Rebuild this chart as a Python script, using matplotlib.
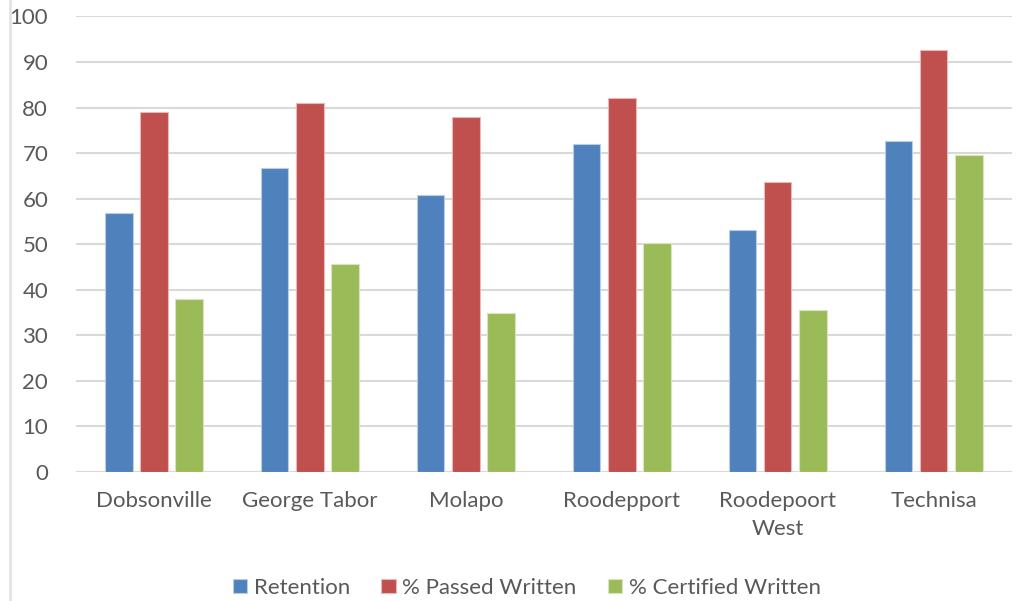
import matplotlib.pyplot as plt
import numpy as np

sites = ["Dobsonville", "George Tabor", "Molapo", "Roodepport", "Roodepoort\nWest", "Technisa"]
retention = [56.8, 66.7, 60.8, 72.0, 53.1, 72.6]
passed_written = [79.0, 81.0, 78.0, 82.0, 63.7, 92.6]
certified_written = [38.0, 45.7, 34.9, 50.3, 35.5, 69.6]

series = [
    ("Retention", retention, "#4F81BD", "#B9CDE5"),
    ("% Passed Written", passed_written, "#C0504D", "#E6B9B8"),
    ("% Certified Written", certified_written, "#9BBB59", "#D7E4BD"),
]

plt.rcParams['font.family'] = ['Lato', 'DejaVu Sans']
text_color = "#595959"

fig = plt.figure(figsize=(10.23, 6.01), dpi=100)
ax = fig.add_axes([0.0743, 0.2146, 0.9147, 0.758])

x = np.arange(len(sites))
width = 0.175
step = 0.225
for i, (name, vals, color, edge) in enumerate(series):
    ax.bar(x + (i - 1) * step, vals, width, color=color, edgecolor=edge,
           linewidth=0.8, label=name, zorder=3)

ax.set_xlim(-0.5, len(sites) - 0.5)
ax.set_ylim(0, 100)
ax.set_yticks(range(0, 101, 10))
ax.yaxis.grid(True, color="#D9D9D9", linewidth=1.5, zorder=0)
ax.axhline(0, color="#D9D9D9", linewidth=1.5, zorder=1)
for s in ax.spines.values():
    s.set_visible(False)
ax.tick_params(axis="both", length=0, labelsize=16, colors=text_color)
ax.tick_params(axis="y", pad=20)
ax.tick_params(axis="x", pad=14)
ax.set_xticks(x)
ax.set_xticklabels(sites, linespacing=1.45)

fig.legend(loc="lower center", bbox_to_anchor=(0.515, -0.028), ncol=3, frameon=False,
           fontsize=16, labelcolor=text_color, handlelength=0.65, handleheight=0.65,
           handletextpad=0.3, columnspacing=1.4)

# faint border on the left edge
fig.add_artist(plt.Line2D([0.0098, 0.0098], [0, 1], color="#E3E3E3", linewidth=2,
                          transform=fig.transFigure))

fig.savefig("out.png", dpi=100)
